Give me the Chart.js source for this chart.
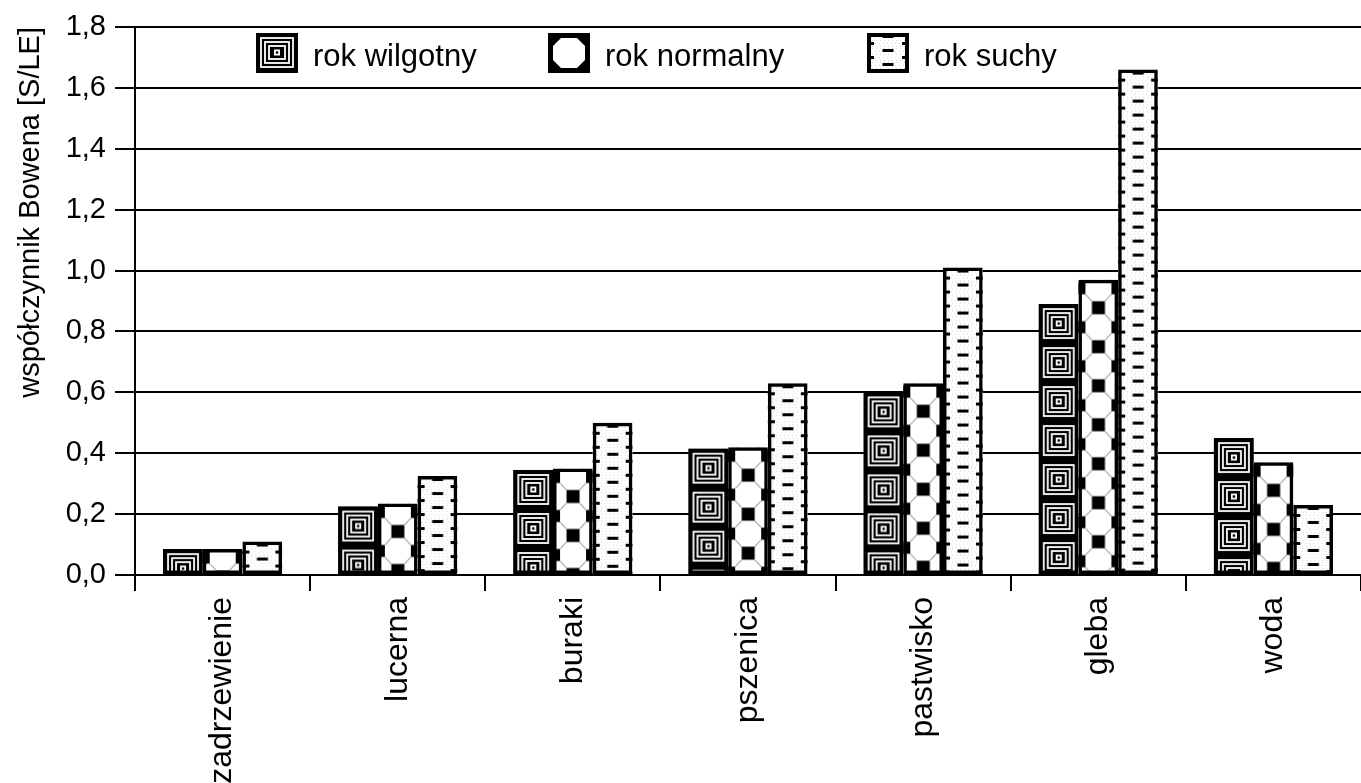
<!DOCTYPE html>
<html>
<head>
<meta charset="utf-8">
<script src="https://cdn.jsdelivr.net/npm/chart.js@4/dist/chart.umd.min.js"></script>
<style>
  html, body { margin: 0; padding: 0; background: #fff; overflow: hidden; }
  #wrap { width: 1361px; height: 783px; position: relative; }
</style>
</head>
<body>
<div id="wrap"><canvas id="c"></canvas></div>
<script>
// Współczynnik Bowena dla różnych powierzchni w trzech typach lat.
const categories = ['zadrzewienie', 'lucerna', 'buraki', 'pszenica', 'pastwisko', 'gleba', 'woda'];
const seriesNames = ['rok wilgotny', 'rok normalny', 'rok suchy'];
const wilgotny = [0.085, 0.225, 0.345, 0.415, 0.60, 0.89, 0.45];
const normalny = [0.085, 0.235, 0.35, 0.42, 0.63, 0.97, 0.37];
const suchy = [0.11, 0.325, 0.50, 0.63, 1.01, 1.66, 0.23];
const yTicks = [0, 0.2, 0.4, 0.6, 0.8, 1.0, 1.2, 1.4, 1.6, 1.8];

const FONT = "'Liberation Sans', Arial, sans-serif";

// ── Wzory wypełnienia (kafelki) ───────────────────────────────────────────
function tileWilgotny(w) {
    const h = 39;
    const c = document.createElement('canvas');
    c.width = w; c.height = h;
    const g = c.getContext('2d');
    g.fillStyle = '#000';
    g.fillRect(0, 0, w, h);
    g.strokeStyle = '#fff';
    g.lineWidth = 1.8;
    [5, 9, 13].forEach((i) => g.strokeRect(i, i, w - 2 * i, h - 2 * i));
    const cx = w / 2, cy = h / 2;
    g.fillStyle = '#fff';
    g.fillRect(cx - 3, cy - 3, 6, 6);
    g.fillStyle = '#000';
    g.fillRect(cx - 1.2, cy - 1.2, 2.4, 2.4);
    return c;
}

function tileNormalny(w) {
    const h = 39;
    const c = document.createElement('canvas');
    c.width = w; c.height = h;
    const g = c.getContext('2d');
    g.fillStyle = '#fff';
    g.fillRect(0, 0, w, h);
    g.fillStyle = '#000';
    const cx = w / 2;
    g.fillRect(cx - 6.5, 21.5, 13, 13);
    g.fillRect(0, 2.5, 7, 12);
    g.fillRect(w - 7, 2.5, 7, 12);
    g.strokeStyle = '#777';
    g.lineWidth = 1;
    g.beginPath();
    g.moveTo(7, 14.5); g.lineTo(cx - 6.5, 21.5);
    g.moveTo(w - 7, 14.5); g.lineTo(cx + 6.5, 21.5);
    g.moveTo(cx - 6.5, 34.5); g.lineTo(7, 41.5);
    g.moveTo(cx + 6.5, 34.5); g.lineTo(w - 7, 41.5);
    g.moveTo(cx - 6.5, -4.5); g.lineTo(7, 2.5);
    g.moveTo(cx + 6.5, -4.5); g.lineTo(w - 7, 2.5);
    g.stroke();
    return c;
}

function tileSuchy(w) {
    const h = 14;
    const c = document.createElement('canvas');
    c.width = w; c.height = h;
    const g = c.getContext('2d');
    g.fillStyle = '#fff';
    g.fillRect(0, 0, w, h);
    g.fillStyle = '#d8d8d8';
    for (let y = 1; y < h; y += 3) {
        for (let x = (y % 2); x < w; x += 4) g.fillRect(x, y, 1, 1);
    }
    g.fillStyle = '#000';
    const cx = w / 2;
    g.fillRect(cx - 5.5, 2, 11, 3);
    g.fillRect(0, 9, 7, 3);
    g.fillRect(w - 7, 9, 7, 3);
    return c;
}

const tileMakers = [tileWilgotny, tileNormalny, tileSuchy];
const tileCache = {};
function tile(di, w) {
    const key = di + ':' + w;
    if (!tileCache[key]) tileCache[key] = tileMakers[di](w);
    return tileCache[key];
}

// Wypełnienie słupków wzorem, wyrównanym do lewego górnego rogu słupka.
const patternFill = {
    id: 'patternFill',
    beforeDatasetsDraw(chart) {
        const ctx = chart.ctx;
        ctx.save();
        chart.data.datasets.forEach((ds, di) => {
            chart.getDatasetMeta(di).data.forEach((bar) => {
                const { x, y, base, width } = bar.getProps(['x', 'y', 'base', 'width'], true);
                const left = x - width / 2;
                const pat = ctx.createPattern(tile(di, Math.round(width)), 'repeat');
                pat.setTransform(new DOMMatrix().translate(left, y));
                ctx.fillStyle = pat;
                ctx.fillRect(left, y, width, base - y);
            });
        });
        ctx.restore();
    },
};

// Legenda wewnątrz obszaru wykresu, jak w oryginale.
const legendInside = {
    id: 'legendInside',
    afterDraw(chart) {
        const ctx = chart.ctx;
        const xs = [256, 548, 867];
        const top = 33, sw = 42, sh = 40;
        ctx.save();
        seriesNames.forEach((name, di) => {
            const x = xs[di];
            if (di === 1) {
                ctx.fillStyle = '#000';
                ctx.fillRect(x, top, sw, sh);
                ctx.fillStyle = '#fff';
                const k = 8, p = 5;
                ctx.beginPath();
                ctx.moveTo(x + p + k, top + p);
                ctx.lineTo(x + sw - p - k, top + p);
                ctx.lineTo(x + sw - p, top + p + k);
                ctx.lineTo(x + sw - p, top + sh - p - k);
                ctx.lineTo(x + sw - p - k, top + sh - p);
                ctx.lineTo(x + p + k, top + sh - p);
                ctx.lineTo(x + p, top + sh - p - k);
                ctx.lineTo(x + p, top + p + k);
                ctx.closePath();
                ctx.fill();
            } else {
                const pat = ctx.createPattern(tile(di, sw), 'repeat');
                pat.setTransform(new DOMMatrix().translate(x, top));
                ctx.fillStyle = pat;
                ctx.fillRect(x, top, sw, sh);
                ctx.strokeStyle = '#000';
                ctx.lineWidth = 4;
                ctx.strokeRect(x + 2, top + 2, sw - 4, sh - 4);
            }
            ctx.fillStyle = '#000';
            ctx.font = '31px ' + FONT;
            ctx.textBaseline = 'alphabetic';
            ctx.textAlign = 'left';
            ctx.fillText(name, x + 57, 66);
        });
        ctx.restore();
    },
};

const bar = (label, data) => ({
    label,
    data,
    backgroundColor: 'rgba(0,0,0,0)',
    borderColor: '#000',
    borderWidth: 3.5,
    borderSkipped: false,
    barPercentage: 1,
    categoryPercentage: 0.68,
});

new Chart(document.getElementById('c'), {
    type: 'bar',
    data: {
        labels: categories,
        datasets: [bar(seriesNames[0], wilgotny), bar(seriesNames[1], normalny), bar(seriesNames[2], suchy)],
    },
    options: {
        responsive: true,
        maintainAspectRatio: false,
        animation: false,
        layout: { padding: { top: 27, right: 0, left: 0, bottom: 0 } },
        plugins: { legend: { display: false }, tooltip: { enabled: false } },
        scales: {
            x: {
                grid: { display: true, drawOnChartArea: false, drawTicks: true, tickLength: 16, color: '#000', lineWidth: 2, offset: true },
                border: { color: '#000', width: 2 },
                ticks: { minRotation: 90, maxRotation: 90, autoSkip: false, padding: 6, color: '#000', font: { size: 32, family: FONT } },
                afterFit: (s) => { s.height = 208; },
            },
            y: {
                min: 0,
                max: 1.8,
                afterBuildTicks: (s) => { s.ticks = yTicks.map((v) => ({ value: v })); },
                grid: { color: '#000', lineWidth: 2, tickLength: 20 },
                border: { color: '#000', width: 2 },
                ticks: {
                    padding: 9,
                    color: '#000',
                    font: { size: 29, family: FONT },
                    callback: (v) => Number(v).toFixed(1).replace('.', ','),
                },
                title: {
                    display: true,
                    text: 'współczynnik Bowena [S/LE]',
                    align: 'end',
                    color: '#000',
                    font: { size: 29, family: FONT },
                    padding: { top: 14, bottom: 0 },
                },
                afterFit: (s) => { s.width = 135; },
            },
        },
    },
    plugins: [patternFill, legendInside],
});
</script>
</body>
</html>
